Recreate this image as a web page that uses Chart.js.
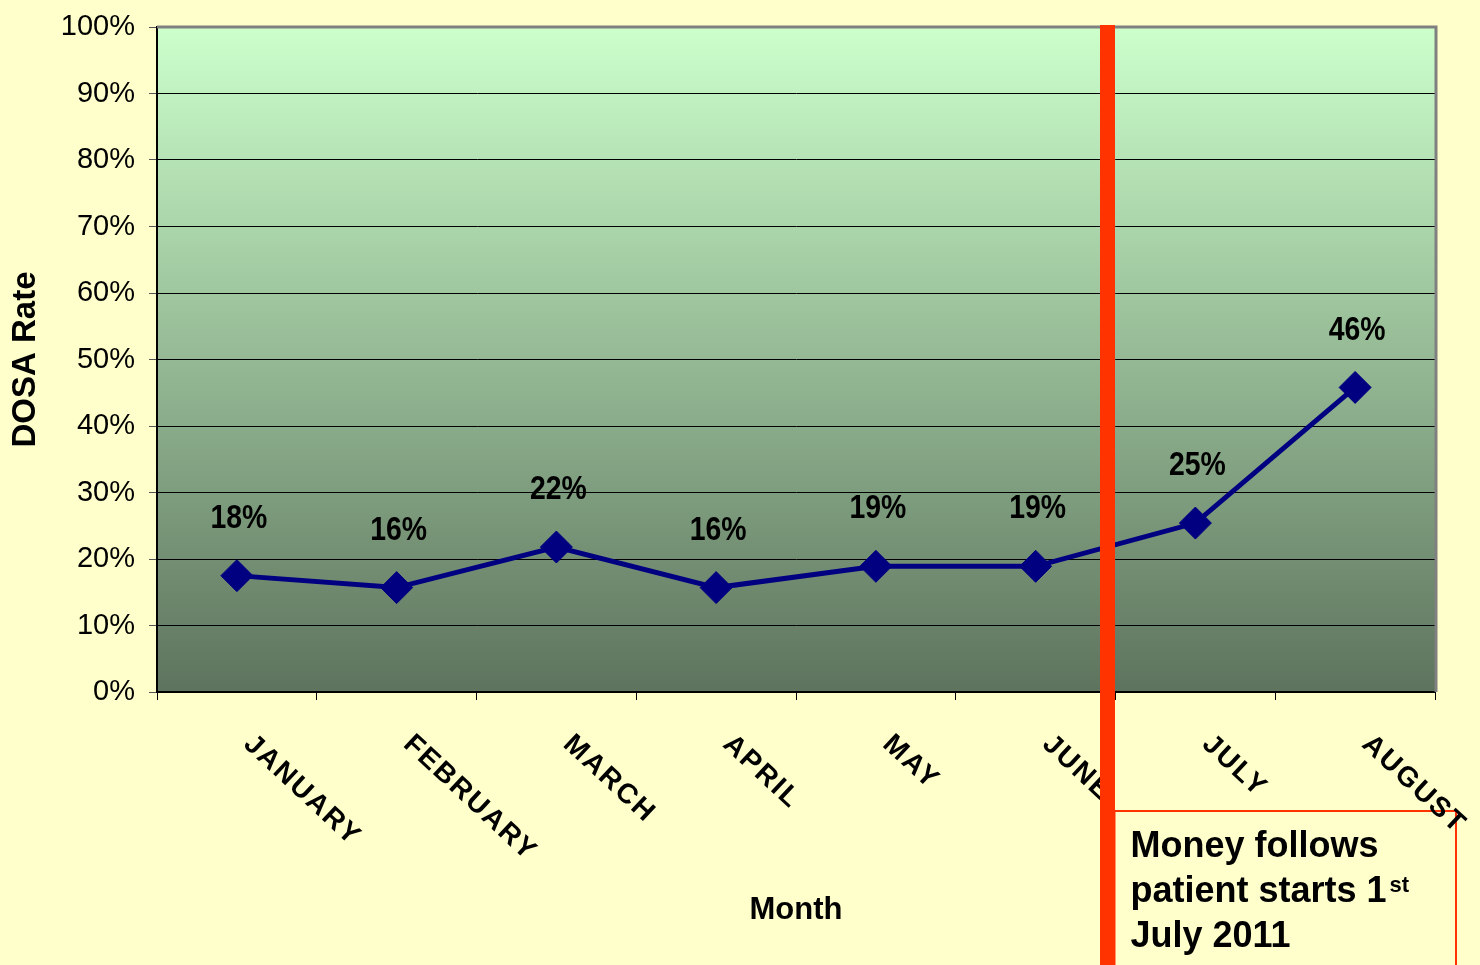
<!DOCTYPE html>
<html>
<head>
<meta charset="utf-8">
<script src="https://cdn.jsdelivr.net/npm/chart.js@4/dist/chart.umd.min.js"></script>
<style>
  html, body { margin: 0; padding: 0; background: #FFFFCC; }
  canvas { display: block; }
</style>
</head>
<body>
<canvas id="dosa" width="1480" height="965"></canvas>
<script>
// chart data
const months = ['JANUARY', 'FEBRUARY', 'MARCH', 'APRIL', 'MAY', 'JUNE', 'JULY', 'AUGUST'];
const dosaRate = [17.5, 15.7, 21.8, 15.7, 18.9, 18.9, 25.4, 45.8];
const pointLabels = ['18%', '16%', '22%', '16%', '19%', '19%', '25%', '46%'];
const noteLines = ['Money follows', 'patient starts 1', 'July 2011'];
const noteSup = 'st';
const changeAfter = 5; // money follows patient from July on

const FONT = '"Liberation Sans", Arial, sans-serif';

var decor = {
  id: 'decor',
  beforeDraw: function (chart) {
    const ctx = chart.ctx, a = chart.chartArea;
    ctx.save();
    ctx.fillStyle = '#FFFFCC';
    ctx.fillRect(0, 0, chart.width, chart.height);
    const g = ctx.createLinearGradient(0, a.top, 0, a.bottom);
    g.addColorStop(0, '#CCFFCC');
    g.addColorStop(1, '#5D735D');
    ctx.fillStyle = g;
    ctx.fillRect(a.left, a.top, a.right - a.left, a.bottom - a.top);
    ctx.restore();
  },
  beforeDatasetsDraw: function (chart) {
    // grey frame on top and right of the plot
    const ctx = chart.ctx, a = chart.chartArea;
    ctx.save();
    ctx.strokeStyle = '#808080';
    ctx.lineWidth = 3;
    ctx.beginPath();
    ctx.moveTo(a.left, a.top);
    ctx.lineTo(a.right + 1, a.top);
    ctx.lineTo(a.right + 1, a.bottom);
    ctx.stroke();
    ctx.restore();
  },
  afterDatasetsDraw: function (chart) {
    const ctx = chart.ctx;
    const meta = chart.getDatasetMeta(0);
    meta.data.forEach(function (pt, i) {
      ctx.save();
      ctx.translate(pt.x + 2, pt.y - 57);
      ctx.scale(0.86, 1);
      ctx.font = 'bold 33px ' + FONT;
      ctx.textAlign = 'center';
      ctx.textBaseline = 'middle';
      ctx.fillStyle = '#000';
      ctx.fillText(pointLabels[i], 0, 0);
      ctx.restore();
    });
  },
  afterDraw: function (chart) {
    const ctx = chart.ctx, a = chart.chartArea;
    const xs = chart.scales.x;
    const lineX = (xs.getPixelForValue(changeAfter) + xs.getPixelForValue(changeAfter + 1)) / 2 - 8;

    // note box
    const bx = lineX + 7, by = xs.top + 119;
    const bw = a.right + 21 - bx;
    ctx.save();
    ctx.fillStyle = '#FFFFCC';
    ctx.fillRect(bx, by, bw, chart.height);
    ctx.strokeStyle = '#FF3300';
    ctx.lineWidth = 2;
    ctx.strokeRect(bx, by, bw, chart.height);
    ctx.fillStyle = '#000';
    ctx.font = 'bold 36px ' + FONT;
    ctx.textAlign = 'left';
    ctx.textBaseline = 'alphabetic';
    noteLines.forEach(function (t, i) {
      ctx.fillText(t, bx + 16, by + 46 + i * 45);
    });
    const w = ctx.measureText(noteLines[1]).width;
    ctx.font = 'bold 22px ' + FONT;
    ctx.fillText(noteSup, bx + 16 + w + 3, by + 81);
    ctx.restore();

    // rotated month labels
    months.forEach(function (m, i) {
      const cx = xs.getPixelForValue(i);
      ctx.save();
      ctx.translate(cx + 11, xs.top + 48);
      ctx.rotate(43 * Math.PI / 180);
      ctx.font = 'bold 28px ' + FONT;
      ctx.letterSpacing = '2px';
      ctx.textAlign = 'left';
      ctx.textBaseline = 'middle';
      ctx.fillStyle = '#000';
      ctx.fillText(m, 0, 0);
      ctx.restore();
    });

    // red marker line
    ctx.save();
    ctx.fillStyle = '#FF3300';
    ctx.fillRect(lineX - 7.5, a.top - 2, 15, chart.height - 4);
    ctx.restore();
  }
};

var ctx = document.getElementById('dosa').getContext('2d');
var myChart = new Chart(ctx, {
  type: 'line',
  data: {
    labels: months,
    datasets: [{
      label: 'DOSA Rate',
      data: dosaRate,
      borderColor: '#000080',
      borderWidth: 5,
      backgroundColor: '#000080',
      pointStyle: 'rectRot',
      pointRadius: 16,
      pointBorderWidth: 1,
      pointBorderColor: '#000080',
      pointBackgroundColor: '#000080',
      tension: 0,
      fill: false
    }]
  },
  options: {
    responsive: false,
    animation: false,
    devicePixelRatio: 1,
    layout: { padding: { left: 0, top: 27, right: 45, bottom: 0 } },
    plugins: {
      legend: { display: false },
      tooltip: { enabled: false }
    },
    scales: {
      x: {
        type: 'category',
        offset: true,
        afterFit: function (scale) { scale.height = 273; },
        grid: {
          offset: true,
          drawOnChartArea: false,
          drawTicks: true,
          tickLength: 8,
          tickColor: '#000',
          tickWidth: 1
        },
        border: { color: '#000', width: 2 },
        ticks: { display: false },
        title: {
          display: true,
          text: 'Month',
          color: '#000',
          font: { family: FONT, size: 31, weight: 'bold' },
          padding: { top: 0, bottom: 36 }
        }
      },
      y: {
        min: 0,
        max: 100,
        afterFit: function (scale) { scale.width = 157; },
        grid: {
          color: '#000',
          lineWidth: 1,
          tickLength: 8,
          tickColor: '#555'
        },
        border: { color: '#000', width: 2 },
        ticks: {
          stepSize: 10,
          padding: 14,
          color: '#000',
          font: { family: FONT, size: 29, lineHeight: 0.7 },
          callback: function (v) { return v + '%'; }
        },
        title: {
          display: true,
          text: 'DOSA Rate',
          color: '#000',
          font: { family: FONT, size: 33, weight: 'bold' },
          padding: { top: 6, bottom: 0 }
        }
      }
    }
  },
  plugins: [decor]
});
</script>
</body>
</html>
